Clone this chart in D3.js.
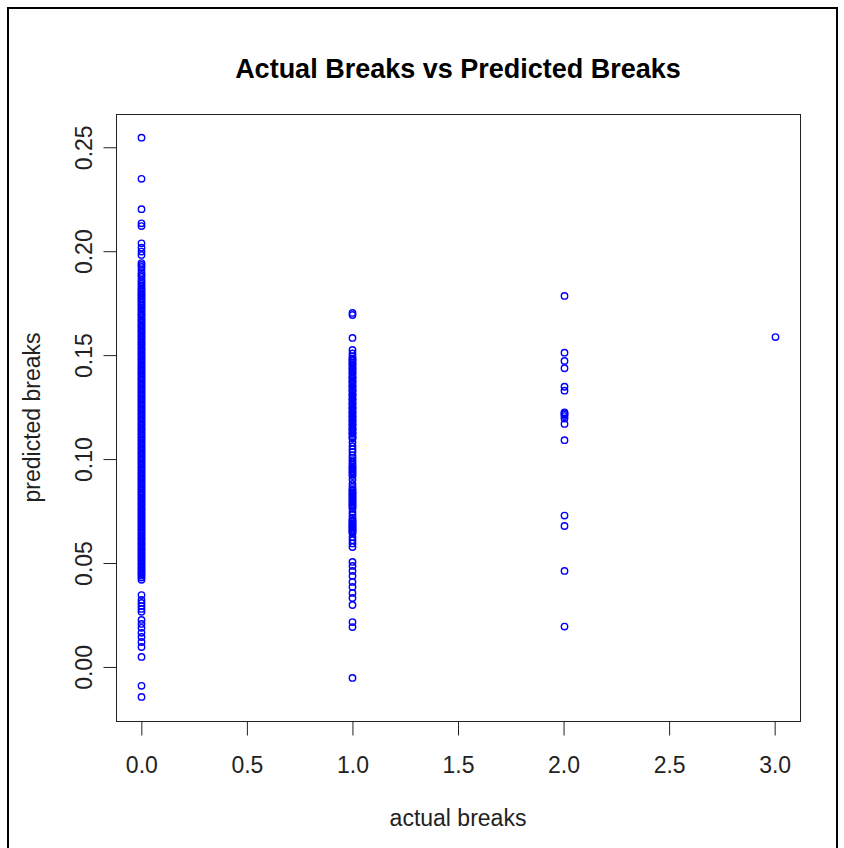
<!DOCTYPE html>
<html>
<head>
<meta charset="utf-8">
<script src="https://cdn.jsdelivr.net/npm/d3@7"></script>
<style>
  html, body { margin: 0; padding: 0; background: #fff; }
  svg { display: block; }
  text { font-family: "Liberation Sans", Arial, sans-serif; }
</style>
</head>
<body>
<svg id="chart" width="844" height="848"></svg>
<script>
// Axis ticks
const xTicks = [0, 0.5, 1, 1.5, 2, 2.5, 3];
const yTicks = [0, 0.05, 0.10, 0.15, 0.20, 0.25];

// Predicted breaks, grouped by the actual number of breaks
const actualLevels = [0, 1, 2, 3];

const predZero = [
  0.2546, 0.2348, 0.2202, 0.2134, 0.2121, 0.2038, 0.2017, 0.1998, 0.1982, 0.1943,
  0.1934, 0.1924, 0.1910, 0.1895, 0.1886, 0.1876, 0.1862, 0.1852, 0.1842, 0.1833,
  0.1822, 0.1815, 0.1806, 0.1797, 0.1791, 0.1783, 0.1774, 0.1768, 0.1759, 0.1751,
  0.1742, 0.1736, 0.1727, 0.1719, 0.1711, 0.1702, 0.1695, 0.1688, 0.1679, 0.1670,
  0.1663, 0.1655, 0.1646, 0.1639, 0.1631, 0.1622, 0.1614, 0.1607, 0.1598, 0.1590,
  0.1583, 0.1575, 0.1566, 0.1558, 0.1551, 0.1543, 0.1534, 0.1527, 0.1519, 0.1510,
  0.1503, 0.1495, 0.1486, 0.1479, 0.1471, 0.1462, 0.1455, 0.1447, 0.1438, 0.1431,
  0.1423, 0.1414, 0.1407, 0.1399, 0.1390, 0.1383, 0.1375, 0.1366, 0.1359, 0.1351,
  0.1342, 0.1335, 0.1327, 0.1318, 0.1311, 0.1303, 0.1294, 0.1287, 0.1279, 0.1270,
  0.1263, 0.1255, 0.1246, 0.1239, 0.1231, 0.1222, 0.1215, 0.1207, 0.1198, 0.1191,
  0.1183, 0.1174, 0.1167, 0.1159, 0.1150, 0.1143, 0.1135, 0.1126, 0.1119, 0.1111,
  0.1102, 0.1095, 0.1087, 0.1078, 0.1071, 0.1063, 0.1054, 0.1047, 0.1039, 0.1030,
  0.1023, 0.1015, 0.1006, 0.0999, 0.0991, 0.0982, 0.0975, 0.0967, 0.0958, 0.0951,
  0.0943, 0.0934, 0.0927, 0.0919, 0.0910, 0.0903, 0.0895, 0.0886, 0.0879, 0.0871,
  0.0862, 0.0855, 0.0847, 0.0838, 0.0831, 0.0823, 0.0814, 0.0807, 0.0799, 0.0790,
  0.0783, 0.0775, 0.0766, 0.0759, 0.0751, 0.0742, 0.0735, 0.0727, 0.0718, 0.0711,
  0.0703, 0.0694, 0.0687, 0.0679, 0.0670, 0.0663, 0.0655, 0.0646, 0.0639, 0.0631,
  0.0622, 0.0615, 0.0607, 0.0598, 0.0591, 0.0583, 0.0574, 0.0567, 0.0559, 0.0550,
  0.0543, 0.0535, 0.0526, 0.0519, 0.0511, 0.0502, 0.0495, 0.0487, 0.0478, 0.0471,
  0.0463, 0.0454, 0.0447, 0.0439, 0.0430, 0.0419, 0.0346, 0.0322, 0.0308, 0.0293,
  0.0279, 0.0265, 0.0226, 0.0207, 0.0188, 0.0164, 0.0144, 0.0120, 0.0096, 0.0048,
  -0.0091, -0.0144
];

const predOne = [
  0.1703, 0.1693, 0.1583, 0.1525, 0.1508, 0.1494, 0.1483, 0.1478, 0.1472, 0.1463,
  0.1457, 0.1451, 0.1442, 0.1436, 0.1430, 0.1421, 0.1415, 0.1409, 0.1398, 0.1393,
  0.1389, 0.1377, 0.1372, 0.1368, 0.1356, 0.1351, 0.1347, 0.1335, 0.1330, 0.1326,
  0.1314, 0.1309, 0.1305, 0.1293, 0.1288, 0.1284, 0.1272, 0.1267, 0.1263, 0.1251,
  0.1246, 0.1242, 0.1230, 0.1225, 0.1221, 0.1210, 0.1205, 0.1201, 0.1190, 0.1185,
  0.1181, 0.1170, 0.1165, 0.1161, 0.1150, 0.1145, 0.1141, 0.1130, 0.1125, 0.1121,
  0.1110, 0.1104, 0.1099, 0.1080, 0.1062, 0.1047, 0.1035, 0.1018, 0.1006, 0.0995,
  0.0985, 0.0974, 0.0963, 0.0958, 0.0950, 0.0942, 0.0935, 0.0926, 0.0918, 0.0901,
  0.0880, 0.0866, 0.0855, 0.0848, 0.0841, 0.0835, 0.0828, 0.0822, 0.0815, 0.0809,
  0.0803, 0.0796, 0.0790, 0.0783, 0.0776, 0.0769, 0.0762, 0.0745, 0.0731, 0.0718,
  0.0708, 0.0702, 0.0697, 0.0691, 0.0686, 0.0681, 0.0676, 0.0670, 0.0665, 0.0659,
  0.0654, 0.0648, 0.0643, 0.0625, 0.0610, 0.0594, 0.0577, 0.0505, 0.0486, 0.0462,
  0.0438, 0.0409, 0.0385, 0.0356, 0.0332, 0.0298, 0.0216, 0.0192, -0.0053
];

const predTwo = [
  0.1785, 0.1512, 0.1472, 0.1437, 0.1348, 0.1329, 0.1225, 0.1220, 0.1214, 0.1207,
  0.1195, 0.1169, 0.1091, 0.0728, 0.0678, 0.0462, 0.0194
];

const predThree = [0.1587];

const predictedByLevel = [predZero, predOne, predTwo, predThree];

const titleText = "Actual Breaks vs Predicted Breaks";
const xLabel = "actual breaks";
const yLabel = "predicted breaks";

// Layout
const plot = { left: 116, right: 800, top: 114, bottom: 721 };
const pointColor = "#0000ff";
const textColor = "#222";

const svg = d3.select("#chart");

// Outer frame of the figure
svg.append("rect")
  .attr("x", 8).attr("y", 8)
  .attr("width", 829).attr("height", 860)
  .attr("fill", "none")
  .attr("stroke", "#000")
  .attr("stroke-width", 2);

const x = d3.scaleLinear().domain([-0.12, 3.12]).range([plot.left, plot.right]);
const y = d3.scaleLinear().domain([-0.026, 0.266]).range([plot.bottom, plot.top]);

// Points: open circles
const points = [];
actualLevels.forEach((lvl, i) => {
  predictedByLevel[i].forEach(v => points.push({ actual: lvl, predicted: v }));
});

svg.append("g")
  .selectAll("circle")
  .data(points)
  .join("circle")
  .attr("cx", d => Math.round(x(d.actual)) + 0.5)
  .attr("cy", d => y(d.predicted))
  .attr("r", 3.2)
  .attr("fill", "none")
  .attr("stroke", pointColor)
  .attr("stroke-width", 1.4);

// Plot box
svg.append("rect")
  .attr("x", plot.left + 0.5).attr("y", plot.top + 0.5)
  .attr("width", plot.right - plot.left)
  .attr("height", plot.bottom - plot.top)
  .attr("fill", "none")
  .attr("stroke", "#222")
  .attr("stroke-width", 1);

// X axis
const xAxis = svg.append("g")
  .attr("transform", `translate(0,${plot.bottom + 0.5})`)
  .call(d3.axisBottom(x).tickValues(xTicks).tickSize(14).tickPadding(21)
    .tickFormat(d3.format(".1f")));
xAxis.select(".domain").remove();
xAxis.selectAll(".tick line").attr("stroke", "#222");
xAxis.selectAll(".tick text")
  .attr("font-size", 23)
  .attr("fill", textColor)
  .attr("font-family", "Liberation Sans, Arial, sans-serif");

// Y axis
const yAxis = svg.append("g")
  .attr("transform", `translate(${plot.left + 0.5},0)`)
  .call(d3.axisLeft(y).tickValues(yTicks).tickSize(13).tickFormat(d3.format(".2f")));
yAxis.select(".domain").remove();
yAxis.selectAll(".tick line").attr("stroke", "#222");
yAxis.selectAll(".tick text")
  .attr("font-size", 23)
  .attr("fill", textColor)
  .attr("font-family", "Liberation Sans, Arial, sans-serif")
  .attr("text-anchor", "middle")
  .attr("dy", null)
  .attr("x", null)
  .attr("transform", "translate(-25,0) rotate(-90)")
  .attr("y", 0);

// Title
svg.append("text")
  .attr("x", (plot.left + plot.right) / 2)
  .attr("y", 78)
  .attr("text-anchor", "middle")
  .attr("font-size", 27)
  .attr("font-weight", "bold")
  .attr("fill", "#000")
  .text(titleText);

// Axis titles
svg.append("text")
  .attr("x", (plot.left + plot.right) / 2)
  .attr("y", 826)
  .attr("text-anchor", "middle")
  .attr("font-size", 23)
  .attr("fill", textColor)
  .text(xLabel);

svg.append("text")
  .attr("transform", `translate(40,${(plot.top + plot.bottom) / 2}) rotate(-90)`)
  .attr("text-anchor", "middle")
  .attr("font-size", 23)
  .attr("fill", textColor)
  .text(yLabel);
</script>
</body>
</html>
